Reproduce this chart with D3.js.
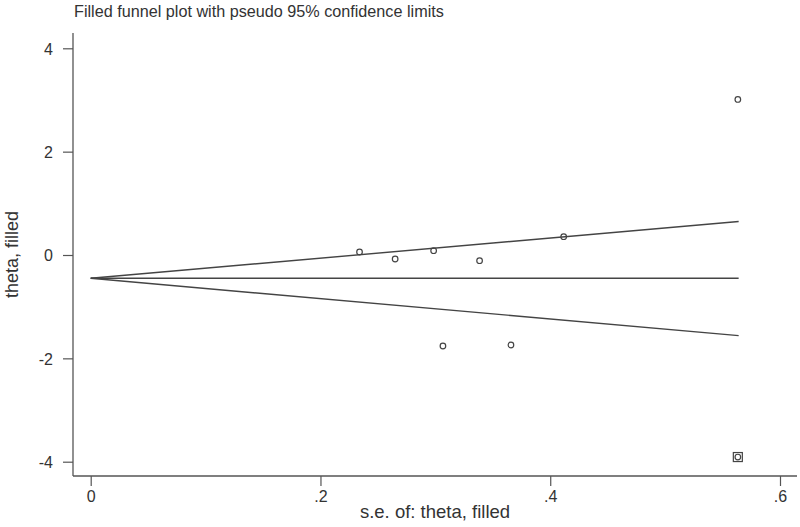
<!DOCTYPE html>
<html>
<head>
<meta charset="utf-8">
<script src="https://cdn.jsdelivr.net/npm/d3@7"></script>
<style>
  html, body { margin: 0; padding: 0; background: #fff; }
  svg { display: block; font-family: "Liberation Sans", Arial, sans-serif; }
</style>
</head>
<body>
<svg id="chart" width="800" height="527"></svg>
<script>
// ---- data ----
const studySe    = [0.234, 0.265, 0.2985, 0.3385, 0.3066, 0.3658, 0.4117, 0.5633];
const studyTheta = [0.058, -0.077, 0.083, -0.110, -1.761, -1.742, 0.354, 3.01];
const filledSe    = [0.5633];
const filledTheta = [-3.91];
const limitSe    = [0, 0.564];
const centreLine = [-0.451, -0.451];
const lowerLimit = [-0.451, -1.56];
const upperLimit = [-0.451, 0.648];
const xTicks = [0, 0.2, 0.4, 0.6];
const yTicks = [-4, -2, 0, 2, 4];
const titleText = "Filled funnel plot with pseudo 95% confidence limits";
const xTitle = "s.e. of: theta, filled";
const yTitle = "theta, filled";

// ---- layout ----
const svg = d3.select("#chart");
const pLeft = 73, pRight = 797, pTop = 33, pBottom = 476;
const x = d3.scaleLinear().domain([0, 0.6]).range([90.7, 780]);
const y = d3.scaleLinear().domain([-4, 4]).range([461.7, 48.3]);
const ink = "#333", axisCol = "#555";

// title
svg.append("text").attr("x", 74).attr("y", 17)
  .attr("font-size", 16.2).attr("fill", ink).text(titleText);

// axes
const fmt = d => d === 0 ? "0" : String(d).replace(/^0/, "");
const gx = svg.append("g").attr("transform", `translate(0,${pBottom})`)
  .call(d3.axisBottom(x).tickValues(xTicks).tickFormat(fmt).tickSize(10).tickSizeOuter(0));
gx.select(".domain").remove();
gx.selectAll(".tick line").attr("stroke", axisCol).attr("stroke-width", 1.2);
gx.selectAll(".tick text").attr("font-size", 16).attr("fill", ink).attr("dy", "0").attr("y", 26);

const gy = svg.append("g").attr("transform", `translate(${pLeft},0)`)
  .call(d3.axisLeft(y).tickValues(yTicks).tickFormat(d => String(d)).tickSize(10).tickSizeOuter(0));
gy.select(".domain").remove();
gy.selectAll(".tick line").attr("stroke", axisCol).attr("stroke-width", 1.2);
gy.selectAll(".tick text").attr("font-size", 16).attr("fill", ink).attr("x", -20).attr("dy", "0.36em");

svg.append("line").attr("x1", pLeft).attr("x2", pLeft).attr("y1", pTop).attr("y2", pBottom)
  .attr("stroke", axisCol).attr("stroke-width", 1.3);
svg.append("line").attr("x1", pLeft).attr("x2", pRight).attr("y1", pBottom).attr("y2", pBottom)
  .attr("stroke", axisCol).attr("stroke-width", 1.3);

// axis titles
svg.append("text").attr("x", (pLeft + pRight) / 2).attr("y", 518).attr("text-anchor", "middle")
  .attr("font-size", 18.5).attr("fill", ink).text(xTitle);
svg.append("text").attr("transform", `translate(18,${(pTop + pBottom) / 2}) rotate(-90)`)
  .attr("text-anchor", "middle").attr("font-size", 18).attr("fill", ink).text(yTitle);

// funnel lines
const line = d3.line().x(d => x(d[0])).y(d => y(d[1]));
[centreLine, lowerLimit, upperLimit].forEach(vals => {
  svg.append("path").datum(limitSe.map((s, i) => [s, vals[i]]))
    .attr("d", line).attr("fill", "none").attr("stroke", "#444").attr("stroke-width", 1.4);
});

// study points (hollow circles)
const allSe = studySe.concat(filledSe), allTheta = studyTheta.concat(filledTheta);
svg.append("g").selectAll("circle").data(allSe.map((s, i) => [s, allTheta[i]])).join("circle")
  .attr("cx", d => x(d[0])).attr("cy", d => y(d[1])).attr("r", 2.8)
  .attr("fill", "none").attr("stroke", "#444").attr("stroke-width", 1.2);

// filled studies (squares)
svg.append("g").selectAll("rect").data(filledSe.map((s, i) => [s, filledTheta[i]])).join("rect")
  .attr("x", d => x(d[0]) - 4.5).attr("y", d => y(d[1]) - 4.5).attr("width", 9).attr("height", 9)
  .attr("fill", "none").attr("stroke", "#444").attr("stroke-width", 1.2);
</script>
</body>
</html>
